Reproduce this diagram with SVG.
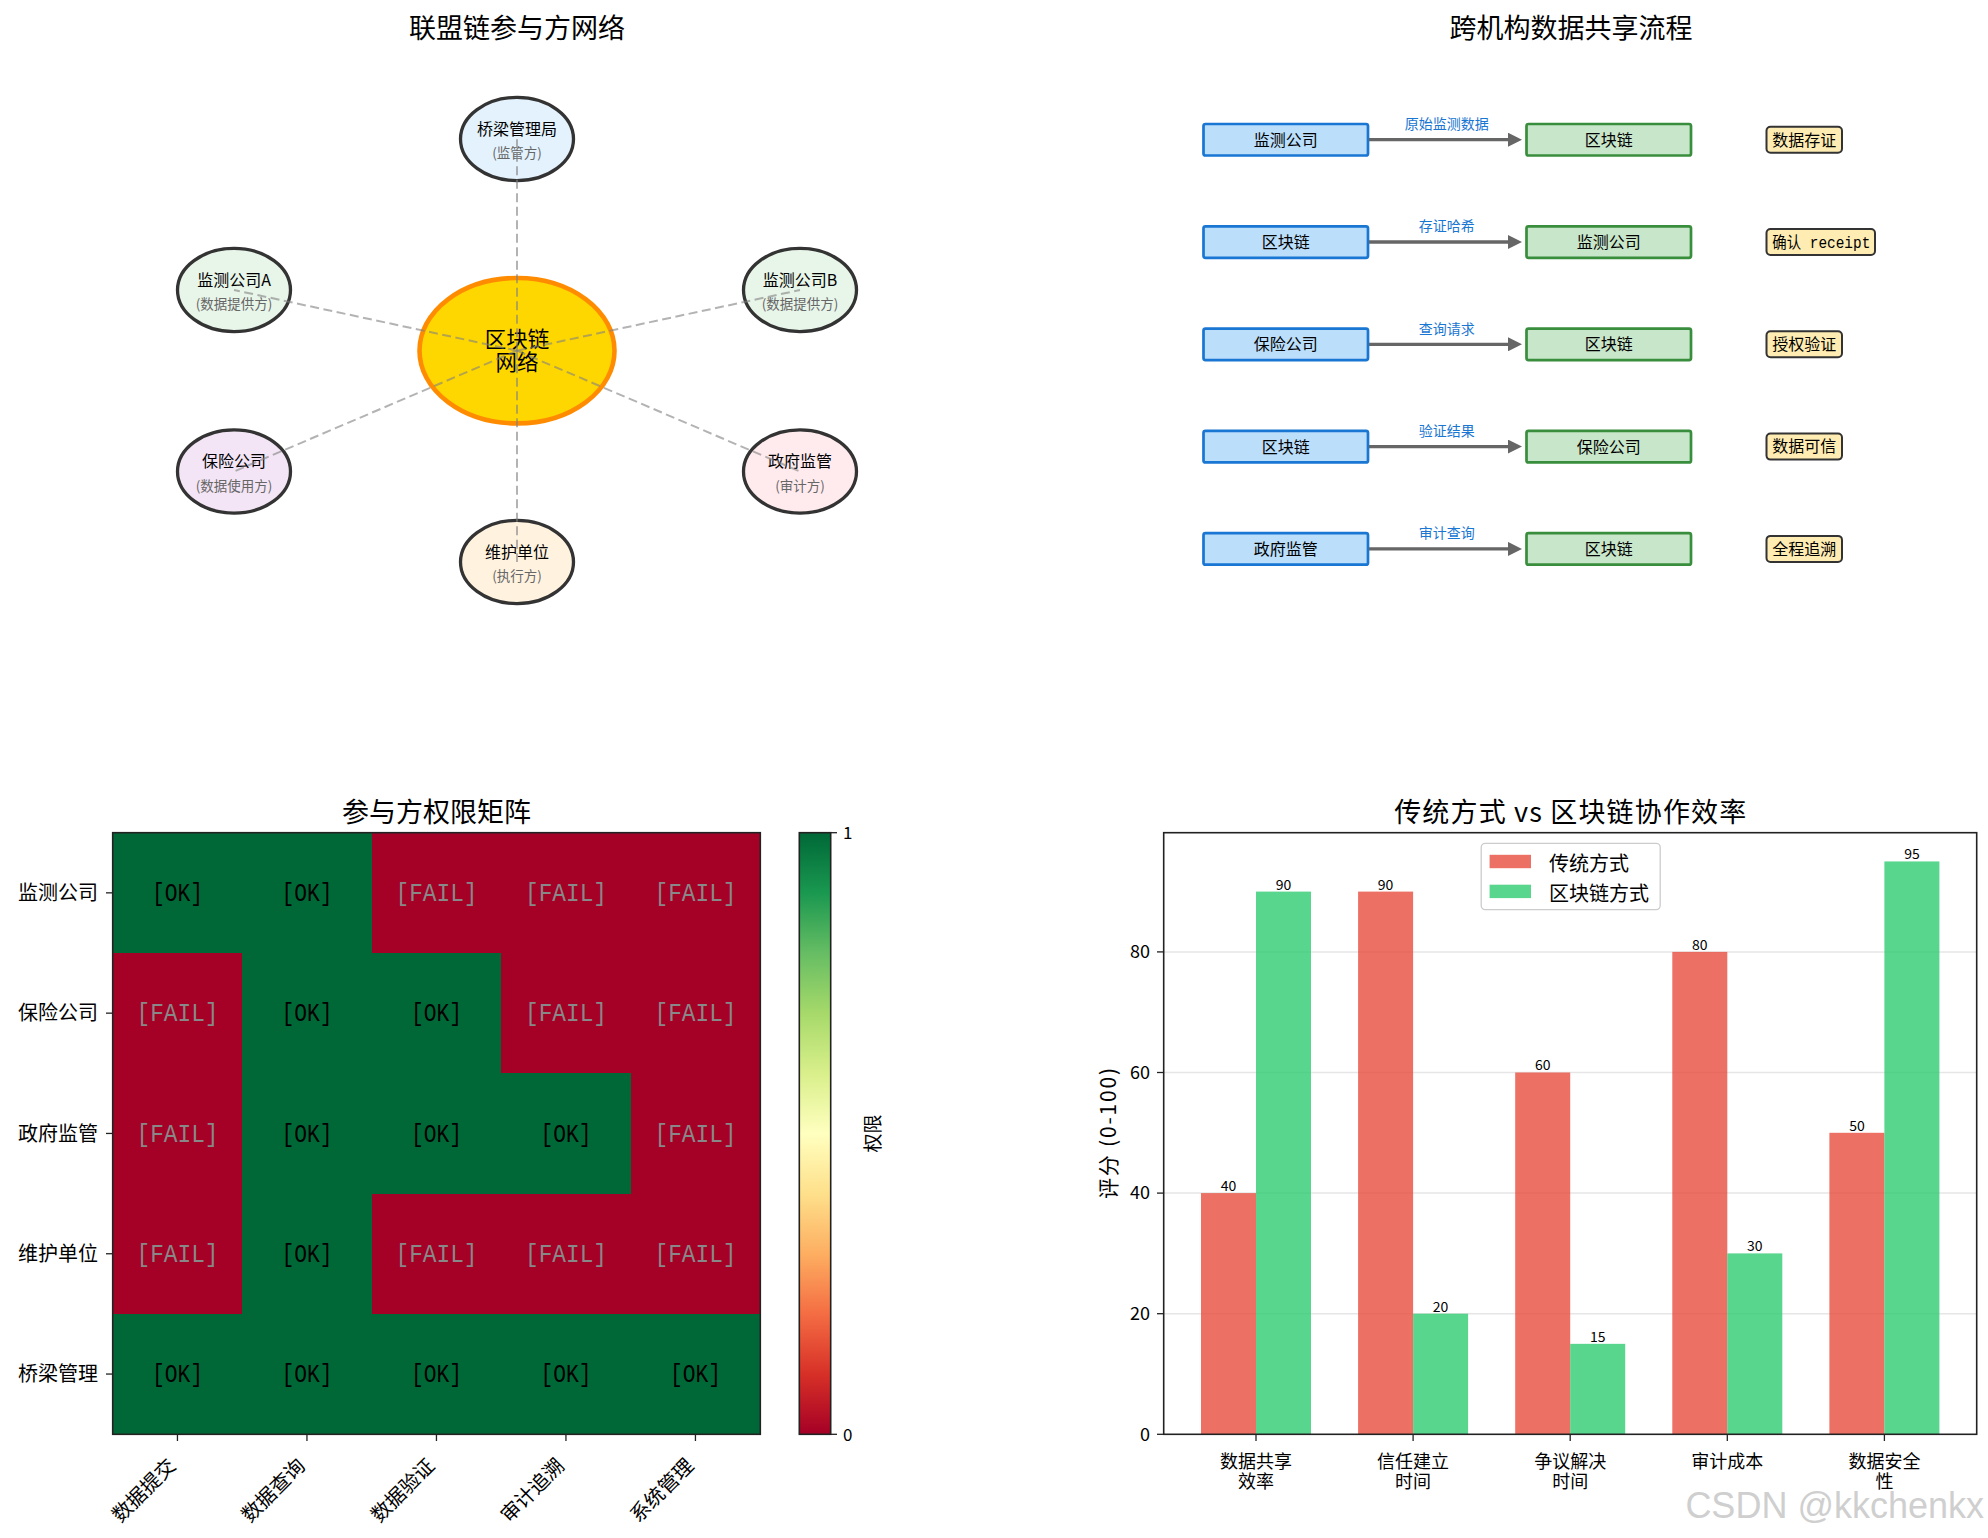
<svg xmlns="http://www.w3.org/2000/svg" width="1988" height="1538" viewBox="0 0 1988 1538">
<style>
text{font-family:"Noto Sans CJK SC","Noto Sans",sans-serif;fill:#000}
.title{font-size:27px;text-anchor:middle}
.node{stroke:#333;stroke-width:3.3}
.nname{font-size:16px;text-anchor:middle}
.nsub{font-size:13.5px;text-anchor:middle;fill:#666}
.link{stroke:#808080;stroke-opacity:0.6;stroke-width:2;stroke-dasharray:9 4.5;fill:none}
.lbox{fill:#BBDEFB;stroke:#1976D2;stroke-width:2.7}
.rbox{fill:#C8E6C9;stroke:#388E3C;stroke-width:2.7}
.btxt{font-size:16px;text-anchor:middle}
.arr{stroke:#666;stroke-width:3.3;fill:none}
.alab{font-size:14px;text-anchor:middle;fill:#1976D2}
.tag{fill:#FFECB3;stroke:#333;stroke-width:2}
.ttxt{font-size:16px}
.g1{fill:#006837}
.r0{fill:#a50026}
.ok{font-family:"Liberation Mono","DejaVu Sans Mono",monospace;font-size:26px;text-anchor:middle;fill:#000}
.fail{font-family:"Liberation Mono","DejaVu Sans Mono",monospace;font-size:26px;text-anchor:middle;fill:#888}
.ytl{font-size:20px;text-anchor:end}
.xtl{font-size:20px;text-anchor:end}
.tick{stroke:#222;stroke-width:1.3}
.frame{fill:none;stroke:#222;stroke-width:1.6}
.grid{stroke:#e6e6e6;stroke-width:1.5}
.trad{fill:#e74c3c;fill-opacity:0.8}
.chain{fill:#2ecc71;fill-opacity:0.8}
.val{font-size:14px;text-anchor:middle}
.bxt{font-size:18px;text-anchor:middle}
.byt{font-size:18px;text-anchor:end}
.leg{font-size:20px}
</style>
<defs>
<marker id="ah" viewBox="0 0 14 14" refX="2" refY="7" markerWidth="14" markerHeight="14" markerUnits="userSpaceOnUse" orient="auto">
<path d="M0,0 L14,7 L0,14 z" fill="#666"/>
</marker>
<linearGradient id="rdylgn" x1="0" y1="1" x2="0" y2="0">
<stop offset="0" stop-color="#a50026"/>
<stop offset="0.1" stop-color="#d73027"/>
<stop offset="0.2" stop-color="#f46d43"/>
<stop offset="0.3" stop-color="#fdae61"/>
<stop offset="0.4" stop-color="#fee08b"/>
<stop offset="0.5" stop-color="#ffffbf"/>
<stop offset="0.6" stop-color="#d9ef8b"/>
<stop offset="0.7" stop-color="#a6d96a"/>
<stop offset="0.8" stop-color="#66bd63"/>
<stop offset="0.9" stop-color="#1a9850"/>
<stop offset="1" stop-color="#006837"/>
</linearGradient>
</defs>
<rect width="1988" height="1538" fill="#fff"/>

<!-- Panel 1: network -->
<text class="title" x="517" y="38">联盟链参与方网络</text>
<g id="node-center">
<ellipse cx="517" cy="350.7" rx="97.5" ry="72.7" fill="#FFD700" stroke="#FF8C00" stroke-width="4.6"/>
<text x="517" y="346.5" style="font-size:21.5px;text-anchor:middle">区块链<tspan x="517" y="370">网络</tspan></text>
</g>
<g id="node-bridge">
<ellipse class="node" cx="517" cy="139" rx="56.5" ry="41.6" fill="#E3F2FD"/>
<text class="nname" x="517" y="134.5">桥梁管理局</text>
<text class="nsub" x="517" y="158">(监管方)</text>
</g>
<g id="node-monA">
<ellipse class="node" cx="234" cy="290" rx="56.5" ry="41.6" fill="#E8F5E9"/>
<text class="nname" x="234" y="285.5">监测公司A</text>
<text class="nsub" x="234" y="309">(数据提供方)</text>
</g>
<g id="node-monB">
<ellipse class="node" cx="800" cy="290" rx="56.5" ry="41.6" fill="#E8F5E9"/>
<text class="nname" x="800" y="285.5">监测公司B</text>
<text class="nsub" x="800" y="309">(数据提供方)</text>
</g>
<g id="node-insurance">
<ellipse class="node" cx="234" cy="471.5" rx="56.5" ry="41.6" fill="#F3E5F5"/>
<text class="nname" x="234" y="467">保险公司</text>
<text class="nsub" x="234" y="490.5">(数据使用方)</text>
</g>
<g id="node-gov">
<ellipse class="node" cx="800" cy="471.5" rx="56.5" ry="41.6" fill="#FFEBEE"/>
<text class="nname" x="800" y="467">政府监管</text>
<text class="nsub" x="800" y="490.5">(审计方)</text>
</g>
<g id="node-maint">
<ellipse class="node" cx="517" cy="562" rx="56.5" ry="41.6" fill="#FFF3E0"/>
<text class="nname" x="517" y="557.5">维护单位</text>
<text class="nsub" x="517" y="581">(执行方)</text>
</g>
<g id="connectors">
<line class="link" x1="517" y1="350.7" x2="517" y2="139"/>
<line class="link" x1="517" y1="350.7" x2="234" y2="290"/>
<line class="link" x1="517" y1="350.7" x2="800" y2="290"/>
<line class="link" x1="517" y1="350.7" x2="234" y2="471.5"/>
<line class="link" x1="517" y1="350.7" x2="800" y2="471.5"/>
<line class="link" x1="517" y1="350.7" x2="517" y2="562"/>
</g>

<!-- Panel 2: flow -->
<text class="title" x="1571" y="38">跨机构数据共享流程</text>
<g id="flow-row1">
<rect class="lbox" x="1203.5" y="124" width="164.5" height="31.5" rx="2"/>
<text class="btxt" x="1285.7" y="145.7">监测公司</text>
<rect class="rbox" x="1526.5" y="124" width="164.5" height="31.5" rx="2"/>
<text class="btxt" x="1608.7" y="145.7">区块链</text>
<rect class="tag" x="1766.5" y="126.7" width="75.5" height="26" rx="4"/>
<text class="ttxt" x="1772.3" y="145.5">数据存证</text>
</g>
<g id="flow-row2">
<rect class="lbox" x="1203.5" y="226.3" width="164.5" height="31.5" rx="2"/>
<text class="btxt" x="1285.7" y="248">区块链</text>
<rect class="rbox" x="1526.5" y="226.3" width="164.5" height="31.5" rx="2"/>
<text class="btxt" x="1608.7" y="248">监测公司</text>
<rect class="tag" x="1766.5" y="229" width="108.5" height="26" rx="4"/>
<text class="ttxt" x="1772.3" y="247.8" textLength="98" lengthAdjust="spacingAndGlyphs">确认<tspan style="font-family:'Liberation Mono','DejaVu Sans Mono',monospace;font-size:16px"> receipt</tspan></text>
</g>
<g id="flow-row3">
<rect class="lbox" x="1203.5" y="328.6" width="164.5" height="31.5" rx="2"/>
<text class="btxt" x="1285.7" y="350.3">保险公司</text>
<rect class="rbox" x="1526.5" y="328.6" width="164.5" height="31.5" rx="2"/>
<text class="btxt" x="1608.7" y="350.3">区块链</text>
<rect class="tag" x="1766.5" y="331.3" width="75.5" height="26" rx="4"/>
<text class="ttxt" x="1772.3" y="350.1">授权验证</text>
</g>
<g id="flow-row4">
<rect class="lbox" x="1203.5" y="430.9" width="164.5" height="31.5" rx="2"/>
<text class="btxt" x="1285.7" y="452.6">区块链</text>
<rect class="rbox" x="1526.5" y="430.9" width="164.5" height="31.5" rx="2"/>
<text class="btxt" x="1608.7" y="452.6">保险公司</text>
<rect class="tag" x="1766.5" y="433.6" width="75.5" height="26" rx="4"/>
<text class="ttxt" x="1772.3" y="452.4">数据可信</text>
</g>
<g id="flow-row5">
<rect class="lbox" x="1203.5" y="533.2" width="164.5" height="31.5" rx="2"/>
<text class="btxt" x="1285.7" y="554.9">政府监管</text>
<rect class="rbox" x="1526.5" y="533.2" width="164.5" height="31.5" rx="2"/>
<text class="btxt" x="1608.7" y="554.9">区块链</text>
<rect class="tag" x="1766.5" y="535.9" width="75.5" height="26" rx="4"/>
<text class="ttxt" x="1772.3" y="554.7">全程追溯</text>
</g>
<g id="flow-connectors">
<line class="arr" x1="1369" y1="139.7" x2="1510" y2="139.7" marker-end="url(#ah)"/>
<text class="alab" x="1446.7" y="129">原始监测数据</text>
<line class="arr" x1="1369" y1="242" x2="1510" y2="242" marker-end="url(#ah)"/>
<text class="alab" x="1446.7" y="231.3">存证哈希</text>
<line class="arr" x1="1369" y1="344.3" x2="1510" y2="344.3" marker-end="url(#ah)"/>
<text class="alab" x="1446.7" y="333.6">查询请求</text>
<line class="arr" x1="1369" y1="446.6" x2="1510" y2="446.6" marker-end="url(#ah)"/>
<text class="alab" x="1446.7" y="435.9">验证结果</text>
<line class="arr" x1="1369" y1="548.9" x2="1510" y2="548.9" marker-end="url(#ah)"/>
<text class="alab" x="1446.7" y="538.2">审计查询</text>
</g>

<!-- Panel 3: heatmap -->
<text class="title" x="436.5" y="822">参与方权限矩阵</text>
<g id="heatmap" shape-rendering="crispEdges">
<rect class="g1" x="112.7" y="832.7" width="259" height="120.3"/>
<rect class="r0" x="371.7" y="832.7" width="388.6" height="120.3"/>
<rect class="r0" x="112.7" y="953" width="129.5" height="360.9"/>
<rect class="g1" x="242.2" y="953" width="259" height="120.3"/>
<rect class="r0" x="501.2" y="953" width="259.1" height="120.3"/>
<rect class="g1" x="242.2" y="1073.3" width="388.5" height="120.3"/>
<rect class="r0" x="630.7" y="1073.3" width="129.6" height="120.3"/>
<rect class="g1" x="242.2" y="1193.6" width="129.5" height="120.3"/>
<rect class="r0" x="371.7" y="1193.6" width="388.6" height="120.3"/>
<rect class="g1" x="112.7" y="1313.9" width="647.6" height="120.4"/>
</g>
<g id="heatmap-labels">
<text class="ok" x="177.5" y="901" textLength="51" lengthAdjust="spacingAndGlyphs">[OK]</text>
<text class="ok" x="307" y="901" textLength="51" lengthAdjust="spacingAndGlyphs">[OK]</text>
<text class="fail" x="436.5" y="901" textLength="82" lengthAdjust="spacingAndGlyphs">[FAIL]</text>
<text class="fail" x="566" y="901" textLength="82" lengthAdjust="spacingAndGlyphs">[FAIL]</text>
<text class="fail" x="695.5" y="901" textLength="82" lengthAdjust="spacingAndGlyphs">[FAIL]</text>

<text class="fail" x="177.5" y="1021.3" textLength="82" lengthAdjust="spacingAndGlyphs">[FAIL]</text>
<text class="ok" x="307" y="1021.3" textLength="51" lengthAdjust="spacingAndGlyphs">[OK]</text>
<text class="ok" x="436.5" y="1021.3" textLength="51" lengthAdjust="spacingAndGlyphs">[OK]</text>
<text class="fail" x="566" y="1021.3" textLength="82" lengthAdjust="spacingAndGlyphs">[FAIL]</text>
<text class="fail" x="695.5" y="1021.3" textLength="82" lengthAdjust="spacingAndGlyphs">[FAIL]</text>

<text class="fail" x="177.5" y="1141.6" textLength="82" lengthAdjust="spacingAndGlyphs">[FAIL]</text>
<text class="ok" x="307" y="1141.6" textLength="51" lengthAdjust="spacingAndGlyphs">[OK]</text>
<text class="ok" x="436.5" y="1141.6" textLength="51" lengthAdjust="spacingAndGlyphs">[OK]</text>
<text class="ok" x="566" y="1141.6" textLength="51" lengthAdjust="spacingAndGlyphs">[OK]</text>
<text class="fail" x="695.5" y="1141.6" textLength="82" lengthAdjust="spacingAndGlyphs">[FAIL]</text>

<text class="fail" x="177.5" y="1261.9" textLength="82" lengthAdjust="spacingAndGlyphs">[FAIL]</text>
<text class="ok" x="307" y="1261.9" textLength="51" lengthAdjust="spacingAndGlyphs">[OK]</text>
<text class="fail" x="436.5" y="1261.9" textLength="82" lengthAdjust="spacingAndGlyphs">[FAIL]</text>
<text class="fail" x="566" y="1261.9" textLength="82" lengthAdjust="spacingAndGlyphs">[FAIL]</text>
<text class="fail" x="695.5" y="1261.9" textLength="82" lengthAdjust="spacingAndGlyphs">[FAIL]</text>

<text class="ok" x="177.5" y="1382.2" textLength="51" lengthAdjust="spacingAndGlyphs">[OK]</text>
<text class="ok" x="307" y="1382.2" textLength="51" lengthAdjust="spacingAndGlyphs">[OK]</text>
<text class="ok" x="436.5" y="1382.2" textLength="51" lengthAdjust="spacingAndGlyphs">[OK]</text>
<text class="ok" x="566" y="1382.2" textLength="51" lengthAdjust="spacingAndGlyphs">[OK]</text>
<text class="ok" x="695.5" y="1382.2" textLength="51" lengthAdjust="spacingAndGlyphs">[OK]</text>
</g>
<rect class="frame" x="112.7" y="832.7" width="647.6" height="601.6"/>
<g id="heatmap-axes">
<line class="tick" x1="106" y1="892.85" x2="112.7" y2="892.85"/>
<line class="tick" x1="106" y1="1013.15" x2="112.7" y2="1013.15"/>
<line class="tick" x1="106" y1="1133.45" x2="112.7" y2="1133.45"/>
<line class="tick" x1="106" y1="1253.75" x2="112.7" y2="1253.75"/>
<line class="tick" x1="106" y1="1374.05" x2="112.7" y2="1374.05"/>
<text class="ytl" x="98" y="899.9">监测公司</text>
<text class="ytl" x="98" y="1020.2">保险公司</text>
<text class="ytl" x="98" y="1140.5">政府监管</text>
<text class="ytl" x="98" y="1260.8">维护单位</text>
<text class="ytl" x="98" y="1381.1">桥梁管理</text>
<line class="tick" x1="177.45" y1="1434.3" x2="177.45" y2="1441"/>
<line class="tick" x1="306.95" y1="1434.3" x2="306.95" y2="1441"/>
<line class="tick" x1="436.45" y1="1434.3" x2="436.45" y2="1441"/>
<line class="tick" x1="565.95" y1="1434.3" x2="565.95" y2="1441"/>
<line class="tick" x1="695.45" y1="1434.3" x2="695.45" y2="1441"/>
<text class="xtl" transform="translate(177,1467) rotate(-45)">数据提交</text>
<text class="xtl" transform="translate(306.5,1467) rotate(-45)">数据查询</text>
<text class="xtl" transform="translate(436,1467) rotate(-45)">数据验证</text>
<text class="xtl" transform="translate(565.5,1467) rotate(-45)">审计追溯</text>
<text class="xtl" transform="translate(695,1467) rotate(-45)">系统管理</text>
</g>
<g id="colorbar">
<rect x="799.3" y="832.7" width="31.4" height="601.6" fill="url(#rdylgn)"/>
<rect class="frame" x="799.3" y="832.7" width="31.4" height="601.6"/>
<line class="tick" x1="830.7" y1="832.7" x2="837" y2="832.7"/>
<line class="tick" x1="830.7" y1="1434.3" x2="837" y2="1434.3"/>
<text x="843" y="839" style="font-size:17px">1</text>
<text x="843" y="1440.5" style="font-size:17px">0</text>
<text transform="translate(880,1133.5) rotate(-90)" style="font-size:19px;text-anchor:middle">权限</text>
</g>

<!-- Panel 4: bar chart -->
<text class="title" x="1570.2" y="822" textLength="352" lengthAdjust="spacing">传统方式 vs 区块链协作效率</text>
<g id="bar-grid">
<line class="grid" x1="1163.7" y1="1313.7" x2="1976.7" y2="1313.7"/>
<line class="grid" x1="1163.7" y1="1193.1" x2="1976.7" y2="1193.1"/>
<line class="grid" x1="1163.7" y1="1072.5" x2="1976.7" y2="1072.5"/>
<line class="grid" x1="1163.7" y1="951.9" x2="1976.7" y2="951.9"/>
</g>
<g id="bars-traditional">
<rect class="trad" x="1201" y="1193.1" width="55" height="241.2"/>
<rect class="trad" x="1358.1" y="891.6" width="55" height="542.7"/>
<rect class="trad" x="1515.2" y="1072.5" width="55" height="361.8"/>
<rect class="trad" x="1672.3" y="951.9" width="55" height="482.4"/>
<rect class="trad" x="1829.4" y="1132.8" width="55" height="301.5"/>
</g>
<g id="bars-blockchain">
<rect class="chain" x="1256" y="891.6" width="55" height="542.7"/>
<rect class="chain" x="1413.1" y="1313.7" width="55" height="120.6"/>
<rect class="chain" x="1570.2" y="1343.85" width="55" height="90.45"/>
<rect class="chain" x="1727.3" y="1253.4" width="55" height="180.9"/>
<rect class="chain" x="1884.4" y="861.45" width="55" height="572.85"/>
</g>
<g id="bar-values">
<text class="val" x="1228.5" y="1191">40</text>
<text class="val" x="1283.5" y="889.5">90</text>
<text class="val" x="1385.6" y="889.5">90</text>
<text class="val" x="1440.6" y="1311.6">20</text>
<text class="val" x="1542.7" y="1070.4">60</text>
<text class="val" x="1597.7" y="1341.8">15</text>
<text class="val" x="1699.8" y="949.8">80</text>
<text class="val" x="1754.8" y="1251.3">30</text>
<text class="val" x="1856.9" y="1130.7">50</text>
<text class="val" x="1911.9" y="859.4">95</text>
</g>
<rect class="frame" x="1163.7" y="832.7" width="813" height="601.6"/>
<g id="bar-axes">
<line class="tick" x1="1157" y1="1434.3" x2="1163.7" y2="1434.3"/>
<line class="tick" x1="1157" y1="1313.7" x2="1163.7" y2="1313.7"/>
<line class="tick" x1="1157" y1="1193.1" x2="1163.7" y2="1193.1"/>
<line class="tick" x1="1157" y1="1072.5" x2="1163.7" y2="1072.5"/>
<line class="tick" x1="1157" y1="951.9" x2="1163.7" y2="951.9"/>
<text class="byt" x="1150" y="1440.6">0</text>
<text class="byt" x="1150" y="1320">20</text>
<text class="byt" x="1150" y="1199.4">40</text>
<text class="byt" x="1150" y="1078.8">60</text>
<text class="byt" x="1150" y="958.2">80</text>
<text transform="translate(1116,1133.5) rotate(-90)" style="font-size:21px;text-anchor:middle" textLength="131" lengthAdjust="spacing">评分 (0-100)</text>
<line class="tick" x1="1256" y1="1434.3" x2="1256" y2="1441"/>
<line class="tick" x1="1413.1" y1="1434.3" x2="1413.1" y2="1441"/>
<line class="tick" x1="1570.2" y1="1434.3" x2="1570.2" y2="1441"/>
<line class="tick" x1="1727.3" y1="1434.3" x2="1727.3" y2="1441"/>
<line class="tick" x1="1884.4" y1="1434.3" x2="1884.4" y2="1441"/>
<text class="bxt" x="1256" y="1467.5">数据共享<tspan x="1256" y="1487.5">效率</tspan></text>
<text class="bxt" x="1413.1" y="1467.5">信任建立<tspan x="1413.1" y="1487.5">时间</tspan></text>
<text class="bxt" x="1570.2" y="1467.5">争议解决<tspan x="1570.2" y="1487.5">时间</tspan></text>
<text class="bxt" x="1727.3" y="1467.5">审计成本</text>
<text class="bxt" x="1884.4" y="1467.5">数据安全<tspan x="1884.4" y="1487.5">性</tspan></text>
</g>
<g id="legend">
<rect x="1481.2" y="843.3" width="179" height="66.3" rx="4" fill="#fff" fill-opacity="0.8" stroke="#cccccc" stroke-width="1.3"/>
<rect class="trad" x="1489.6" y="854.8" width="41.4" height="13.4"/>
<text class="leg" x="1549" y="870.7">传统方式</text>
<rect class="chain" x="1489.6" y="884.7" width="41.4" height="13.4"/>
<text class="leg" x="1549" y="900.7">区块链方式</text>
</g>
<text x="1984" y="1518" style="font-family:'Liberation Sans',sans-serif;font-size:36px;text-anchor:end;fill:#cfcfcf">CSDN @kkchenkx</text>
</svg>
